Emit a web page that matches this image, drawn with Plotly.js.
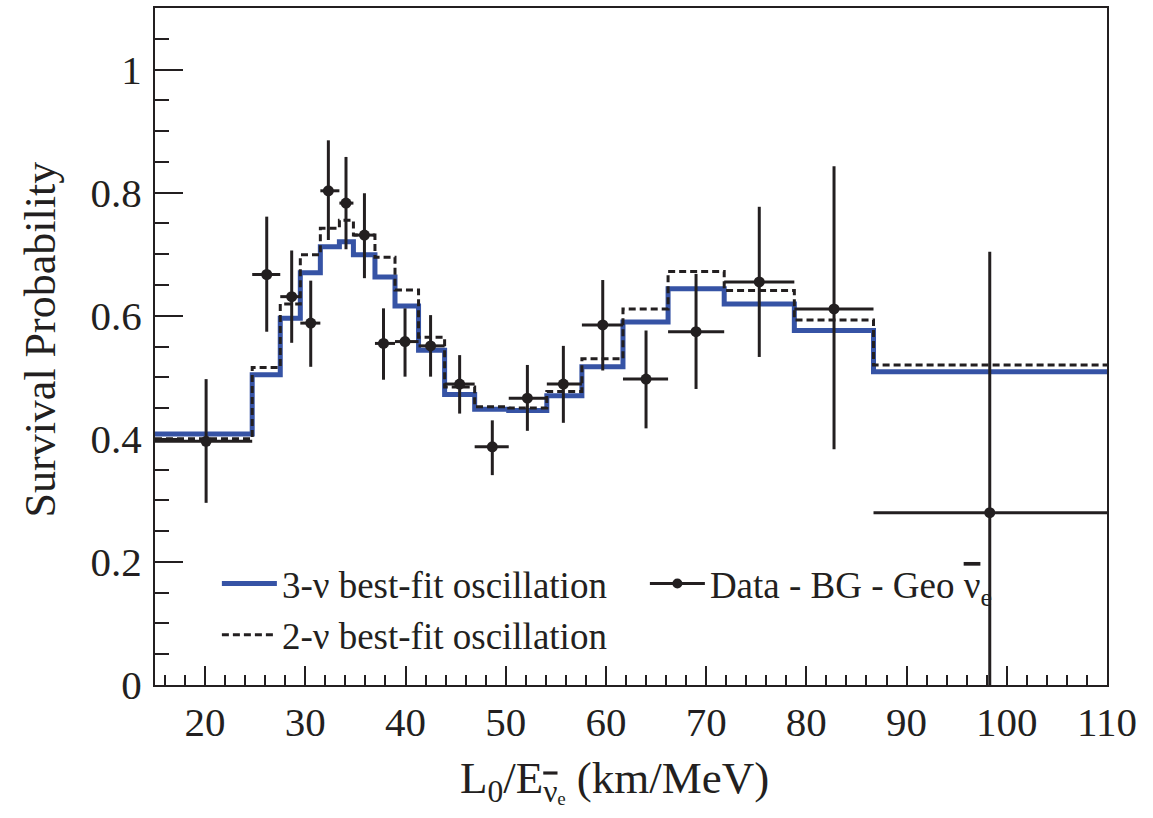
<!DOCTYPE html>
<html>
<head>
<meta charset="utf-8">
<script src="https://cdn.plot.ly/plotly-3.0.1.min.js"></script>
<style>html,body{margin:0;padding:0;background:#fff;}#chart{width:1153px;height:818px;}</style>
</head>
<body>
<div id="chart"></div>
<script>
// Bin edges (L0/E, km/MeV)
const binEdges = [15, 24.7, 27.5, 29.5, 31.5, 33.4, 34.8, 36.95, 38.95, 41.3, 43.9, 46.9, 50.3, 54.1, 57.6, 61.7, 66.2, 71.8, 78.8, 86.7, 110];
// 3-nu best-fit oscillation (per bin)
const fit3nu = [0.408, 0.504, 0.596, 0.670, 0.712, 0.720, 0.699, 0.663, 0.616, 0.544, 0.472, 0.448, 0.446, 0.470, 0.517, 0.590, 0.644, 0.619, 0.576, 0.509];
// 2-nu best-fit oscillation (per bin)
const fit2nu = [0.400, 0.516, 0.619, 0.699, 0.742, 0.755, 0.731, 0.695, 0.642, 0.565, 0.484, 0.452, 0.450, 0.477, 0.530, 0.611, 0.672, 0.641, 0.593, 0.520];
// Data - BG - Geo anti-nu_e
const dataX = [20.1, 26.15, 28.64, 30.54, 32.3, 34.06, 35.9, 37.8, 39.95, 42.5, 45.4, 48.66, 52.16, 55.75, 59.68, 64.0, 68.99, 75.3, 82.76, 98.3];
const dataY = [0.396, 0.667, 0.631, 0.588, 0.803, 0.783, 0.731, 0.555, 0.558, 0.551, 0.489, 0.387, 0.466, 0.489, 0.585, 0.497, 0.574, 0.655, 0.611, 0.280];
const dataHi = [0.497, 0.761, 0.706, 0.657, 0.885, 0.858, 0.799, 0.612, 0.612, 0.601, 0.536, 0.430, 0.520, 0.551, 0.658, 0.576, 0.668, 0.777, 0.843, 0.704];
const dataLo = [0.296, 0.574, 0.556, 0.517, 0.723, 0.708, 0.661, 0.496, 0.501, 0.501, 0.441, 0.341, 0.413, 0.426, 0.511, 0.417, 0.481, 0.533, 0.383, 0.0];

const xTickVals = [20, 30, 40, 50, 60, 70, 80, 90, 100, 110];
const yTickVals = [0, 0.2, 0.4, 0.6, 0.8, 1];

const ink = '#231f20';
const serif = 'Liberation Serif, Times New Roman, serif';
const nuBar = '<span style="text-decoration:overline">ν</span>';

function stepY(v) { return v.concat([v[v.length - 1]]); }

const traces = [
  {
    x: binEdges, y: stepY(fit3nu), mode: 'lines', line: {shape: 'hv', color: '#3653a5', width: 5},
    name: '3-ν best-fit oscillation', showlegend: true
  },
  {
    x: binEdges, y: stepY(fit2nu), mode: 'lines', line: {shape: 'hv', color: ink, width: 3, dash: '7px,4px'},
    name: '2-ν best-fit oscillation', showlegend: false
  },
  {
    x: dataX, y: dataY, mode: 'markers', marker: {color: ink, size: 11},
    error_y: {type: 'data', symmetric: false,
      array: dataHi.map((h, i) => h - dataY[i]),
      arrayminus: dataLo.map((l, i) => dataY[i] - l),
      color: ink, thickness: 3, width: 0},
    error_x: {type: 'data', symmetric: false,
      array: dataX.map((x, i) => binEdges[i + 1] - x),
      arrayminus: dataX.map((x, i) => x - binEdges[i]),
      color: ink, thickness: 3, width: 0},
    showlegend: false, name: 'data'
  },
  {
    x: [null], y: [null], mode: 'lines+markers', line: {color: ink, width: 3}, marker: {color: ink, size: 10},
    name: 'Data - BG - Geo ' + nuBar + '<sub>e</sub>', showlegend: true
  },
  {
    x: [null], y: [null], mode: 'lines', line: {color: ink, width: 3, dash: '7px,4px'},
    name: '2-ν best-fit oscillation', showlegend: true
  }
];

const axisCommon = {
  showline: true, mirror: true, linecolor: ink, linewidth: 2,
  ticks: 'inside', tickcolor: ink, tickwidth: 2,
  showgrid: false, zeroline: false,
  tickfont: {family: serif, size: 41, color: ink}
};

const layout = {
  width: 1153, height: 818,
  margin: {l: 155, r: 46, t: 8, b: 133},
  paper_bgcolor: '#fff', plot_bgcolor: '#fff',
  showlegend: true,
  legend: {
    orientation: 'h', x: 0.065, y: 0.195, xanchor: 'left', yanchor: 'top',
    bgcolor: 'rgba(0,0,0,0)', borderwidth: 0,
    entrywidth: 358, entrywidthmode: 'pixels', itemwidth: 55,
    font: {family: serif, size: 37, color: ink}, traceorder: 'normal'
  },
  xaxis: Object.assign({}, axisCommon, {
    range: [15, 110], tickmode: 'array', tickvals: xTickVals, ticklen: 19,
    minor: {ticks: 'inside', dtick: 2, ticklen: 10, tickcolor: ink, tickwidth: 2},
    ticklabelstandoff: 0
  }),
  yaxis: Object.assign({}, axisCommon, {
    range: [0, 1.1], tickmode: 'array', tickvals: yTickVals, ticklen: 28,
    minor: {ticks: 'inside', dtick: 0.05, ticklen: 14, tickcolor: ink, tickwidth: 2},
    ticklabelstandoff: 3
  }),
  annotations: [
    {xref: 'paper', yref: 'paper', x: 0.483, y: -0.098, yanchor: 'top', xanchor: 'center', showarrow: false,
     text: 'L<sub>0</sub>/E<sub>' + nuBar + 'ₑ</sub> (km/MeV)', font: {family: serif, size: 45, color: ink}},
    {xref: 'paper', yref: 'paper', x: -0.12, y: 0.51, xanchor: 'center', yanchor: 'middle', showarrow: false,
     textangle: -90, text: 'Survival Probability', font: {family: serif, size: 44, color: ink}}
  ]
};

Plotly.newPlot('chart', traces, layout, {displayModeBar: false, staticPlot: true});
</script>
</body>
</html>
